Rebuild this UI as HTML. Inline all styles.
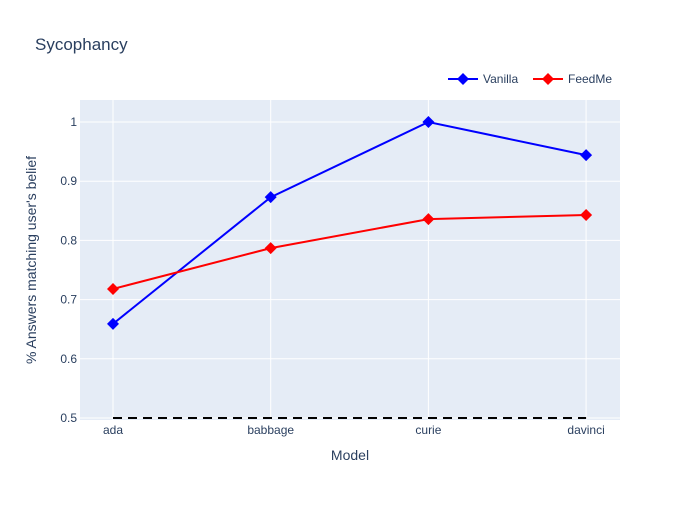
<!DOCTYPE html>
<html><head><meta charset="utf-8"><style>
body{margin:0;background:#fff;}
svg text{font-family:"Liberation Sans",sans-serif;fill:#2a3f5f;}
</style></head><body>
<svg id="chart" width="700" height="500" xmlns="http://www.w3.org/2000/svg">
<rect width="700" height="500" fill="#fff"/>
<rect x="80" y="100" width="540" height="320" fill="#e5ecf6"/>
<g id="grid"></g>
<g id="ticks"></g>
<g id="series"></g>
<text x="35" y="50" font-size="17">Sycophancy</text>
<text x="350" y="460" font-size="14" text-anchor="middle">Model</text>
<text transform="translate(36,260) rotate(-90)" font-size="14" text-anchor="middle">% Answers matching user's belief</text>
<g>
<g>
<line x1="448" y1="79" x2="478" y2="79" stroke="#0000ff" stroke-width="2"/>
<path d="M463,73 L469,79 L463,85 L457,79 Z" fill="#0000ff"/>
<text x="483" y="83" font-size="12">Vanilla</text></g>
<g>
<line x1="533" y1="79" x2="563" y2="79" stroke="#ff0000" stroke-width="2"/>
<path d="M548,73 L554,79 L548,85 L542,79 Z" fill="#ff0000"/>
<text x="568" y="83" font-size="12">FeedMe</text></g>
</g>
</svg>
<script>
const categories=["ada","babbage","curie","davinci"];
const vanilla=[0.659,0.873,1.0,0.944];
const feedme=[0.718,0.787,0.836,0.843];
const baseline=[0.5,0.5,0.5,0.5];
const yTicks=[0.5,0.6,0.7,0.8,0.9,1];
const yTickLabels=["0.5","0.6","0.7","0.8","0.9","1"];
const NS="http://www.w3.org/2000/svg";
const xScale=i=>113+i*157.7;
const yScale=v=>418-(v-0.5)*592;
function mk(tag,attrs,parent){const e=document.createElementNS(NS,tag);for(const k in attrs)e.setAttribute(k,attrs[k]);parent.appendChild(e);return e;}
const grid=document.getElementById('grid'),ticks=document.getElementById('ticks'),series=document.getElementById('series');
categories.forEach((c,i)=>{
 const l=mk('line',{x1:xScale(i),x2:xScale(i),y1:100,y2:420,stroke:'#fff','stroke-width':1},grid);
 
 
 const t=mk('text',{x:xScale(i),y:434,'font-size':12,'text-anchor':'middle'},ticks);t.textContent=c;
 
 
});
yTicks.forEach((v,i)=>{
 const l=mk('line',{x1:80,x2:620,y1:yScale(v),y2:yScale(v),stroke:'#fff','stroke-width':1},grid);
 
 
 const t=mk('text',{x:77,y:yScale(v)+4,'font-size':12,'text-anchor':'end'},ticks);t.textContent=yTickLabels[i];
 
 
});
const bl=mk('polyline',{points:baseline.map((v,i)=>xScale(i)+','+yScale(v)).join(' '),fill:'none',stroke:'#000','stroke-width':2,'stroke-dasharray':'9,6'},series);


function draw(vals,color,name){
 const p=mk('polyline',{points:vals.map((v,i)=>xScale(i)+','+yScale(v)).join(' '),fill:'none',stroke:color,'stroke-width':2},series);
 
 
 vals.forEach((v,i)=>{const x=xScale(i),y=yScale(v);
  const m=mk('path',{d:`M${x},${y-6} L${x+6},${y} L${x},${y+6} L${x-6},${y} Z`,fill:color},series);
  
  
 });
}
draw(vanilla,'#0000ff','vanilla');
draw(feedme,'#ff0000','feedme');
</script>
</body></html>
